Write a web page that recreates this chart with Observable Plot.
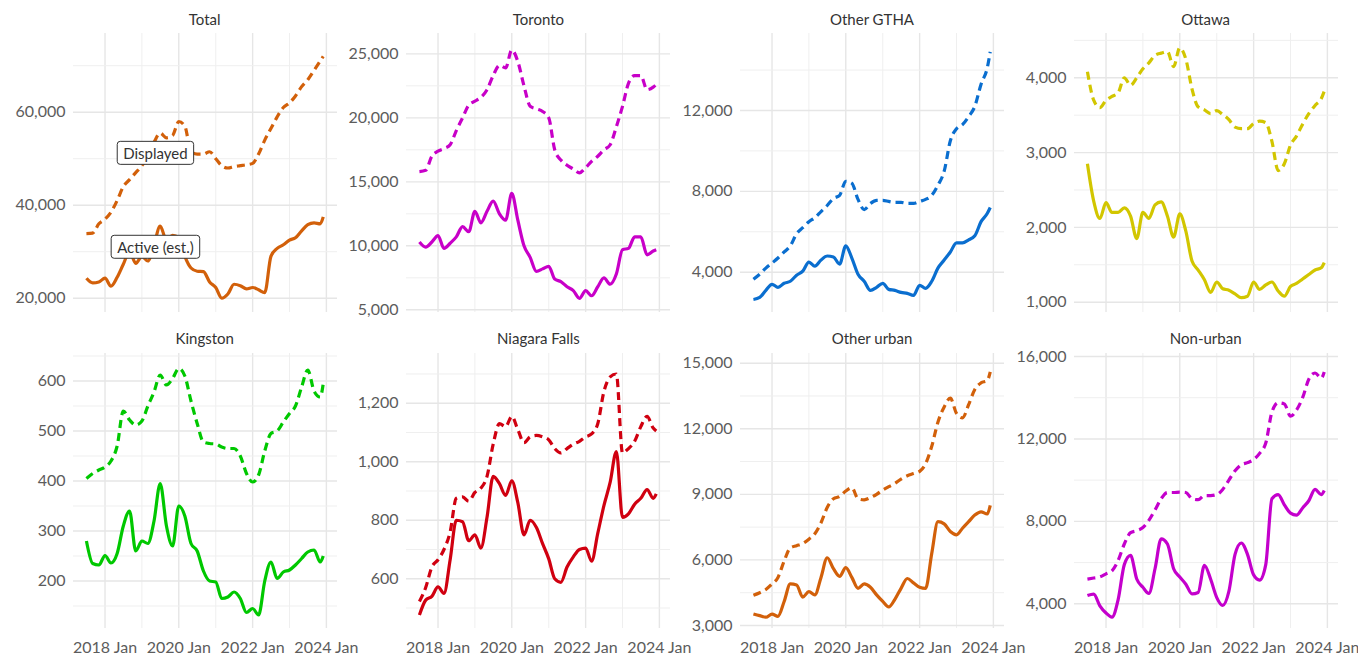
<!DOCTYPE html>
<html>
<head>
<meta charset="utf-8">
<script src="https://cdn.jsdelivr.net/npm/d3@7"></script>
<script src="https://cdn.jsdelivr.net/npm/@observablehq/plot@0.6"></script>
<style>
  html, body { margin: 0; padding: 0; background: #fff; }
  #chart { position: relative; width: 1358px; height: 656px; overflow: hidden; font-family: Lato, "Noto Sans", sans-serif; }
  .panel-title { position: absolute; width: 264px; text-align: center; font-size: 15px; line-height: 17px; color: #333; }
  .panel { position: absolute; }
</style>
</head>
<body>
<div id="chart"></div>
<script>
// Observation months (every second month, plus the final month)
const months = [
  "2017-07","2017-09","2017-11",
  "2018-01","2018-03","2018-05","2018-07","2018-09","2018-11",
  "2019-01","2019-03","2019-05","2019-07","2019-09","2019-11",
  "2020-01","2020-03","2020-05","2020-07","2020-09","2020-11",
  "2021-01","2021-03","2021-05","2021-07","2021-09","2021-11",
  "2022-01","2022-03","2022-05","2022-07","2022-09","2022-11",
  "2023-01","2023-03","2023-05","2023-07","2023-09","2023-11","2023-12"
];

const panelNames = ["Total", "Toronto", "Other GTHA", "Ottawa", "Kingston", "Niagara Falls", "Other urban", "Non-urban"];

// Active (est.) listings — solid lines
const totalActive = [24300,23300,23500,24300,22600,24500,27300,30000,27500,29000,28000,31500,35500,32500,33500,33000,29000,26500,25800,25700,23500,22300,20000,20900,23000,22700,22000,22300,21800,21200,29000,30700,31500,32500,33000,34500,35800,36200,36000,37500];
const torontoActive = [10300,9900,10300,10800,9800,10200,10700,11500,11100,12700,11800,12700,13500,12500,12000,14100,12000,10000,9100,8000,8200,8400,7400,7200,6800,6500,5900,6500,6100,6800,7500,7000,7800,9700,9800,10700,10700,9300,9600,9700];
const gthaActive = [2650,2750,3100,3400,3250,3450,3550,3850,4050,4500,4300,4600,4800,4750,4400,5300,4700,3900,3550,3100,3250,3450,3150,3100,3000,2950,2850,3350,3200,3550,4200,4600,5000,5450,5450,5600,5800,6500,6900,7200];
const ottawaActive = [2850,2350,2120,2330,2200,2200,2260,2150,1850,2200,2120,2300,2340,2150,1870,2180,1950,1550,1430,1300,1130,1270,1180,1160,1110,1060,1080,1270,1170,1230,1270,1150,1080,1210,1250,1310,1370,1430,1460,1530];
const kingstonActive = [280,235,232,251,236,255,310,340,260,280,275,320,395,310,270,350,330,275,260,220,200,198,165,168,178,165,137,145,132,200,238,205,218,222,232,245,258,262,238,250];
const niagaraActive = [476,527,540,572,550,665,800,795,730,750,705,810,950,925,885,935,860,750,800,775,720,668,600,588,640,675,700,705,660,755,850,930,1035,810,822,855,875,905,875,890];
const urbanActive = [3530,3450,3380,3520,3420,4100,4900,4850,4300,4550,4400,5200,6100,5600,5250,5650,5200,4700,4900,4750,4400,4100,3850,4200,4700,5150,4950,4750,4700,6300,7750,7650,7300,7150,7450,7750,8050,8200,8100,8500];
const nonUrbanActive = [4400,4470,3900,3550,3350,4200,5900,6350,5200,4800,4500,5700,7150,6900,5700,5300,4950,4480,4550,5870,5200,4300,3920,4600,6400,6950,6400,5400,5150,5900,9100,9300,8800,8400,8300,8650,9000,9550,9300,9500];

// Displayed listings — dashed lines
const totalDisplayed = [33900,34000,36000,37000,38500,41000,44000,45500,47000,48500,50500,53500,55500,54500,55000,58000,57000,51500,51000,51000,51500,50000,48500,48000,48300,48500,48700,49000,51000,54000,56500,59000,61000,62000,63500,65500,67000,69000,71000,72000];
const torontoDisplayed = [15800,15900,17000,17400,17600,17900,19000,20000,21000,21300,21600,22200,23300,24100,23900,25300,24400,22500,20900,20700,20500,20000,17500,16700,16300,16000,15700,16100,16600,17000,17500,17900,19300,20900,22700,23300,23300,22200,22400,22600];
const gthaDisplayed = [3650,3900,4200,4450,4700,5000,5300,5900,6200,6500,6700,7000,7300,7650,7800,8500,8400,7600,7100,7400,7550,7550,7500,7450,7450,7400,7400,7500,7600,7800,8300,9000,10500,11100,11300,11700,12200,13300,14100,14900];
const ottawaDisplayed = [4080,3700,3600,3700,3750,3800,4000,3900,4000,4120,4200,4300,4330,4350,4150,4400,4250,3850,3610,3570,3520,3560,3510,3440,3340,3320,3320,3390,3420,3400,3150,2760,2850,3100,3220,3380,3520,3630,3720,3820];
const kingstonDisplayed = [405,415,422,428,440,470,540,522,512,520,550,578,612,592,605,625,610,560,515,478,475,474,468,465,465,450,415,398,412,460,495,500,518,535,550,588,622,580,568,595];
const niagaraDisplayed = [522,570,640,665,700,760,875,880,865,895,910,950,1060,1130,1120,1155,1110,1065,1085,1090,1085,1075,1045,1030,1045,1060,1070,1085,1095,1130,1240,1290,1300,1030,1045,1070,1120,1155,1115,1105];
const urbanDisplayed = [4380,4500,4650,4900,5200,5950,6550,6650,6750,6950,7200,7700,8400,8800,8900,9150,9300,8800,8750,8850,9000,9200,9350,9500,9700,9850,9950,10050,10400,11200,12300,13000,13400,12700,12500,13100,13800,14100,14200,14600];
const nonUrbanDisplayed = [5200,5250,5300,5450,5600,6100,6900,7450,7550,7700,8050,8550,9100,9400,9400,9420,9400,9100,9050,9250,9250,9300,9550,10000,10450,10750,10850,11000,11300,11800,13300,13750,13700,13100,13400,14000,14900,15200,14950,15250];

// Series colours per panel
const panelColors = ["#d2600a", "#c800c8", "#0a6ecf", "#d2c600", "#00c800", "#d00010", "#d2600a", "#c400cc"];

// Free y scales: domains and tick values per panel
const yDomains = [[16925, 76925], [4790, 26590], [2005, 15810], [862, 4592], [105, 655], [430, 1370], [2863, 15443], [2800, 16146]];
const yMajorTicks = [
  [20000, 40000, 60000],
  [5000, 10000, 15000, 20000, 25000],
  [4000, 8000, 12000],
  [1000, 2000, 3000, 4000],
  [200, 300, 400, 500, 600],
  [600, 800, 1000, 1200],
  [3000, 6000, 9000, 12000, 15000],
  [4000, 8000, 12000, 16000]
];
const yMinorTicks = [
  [30000, 50000, 70000],
  [7500, 12500, 17500, 22500],
  [6000, 10000, 14000],
  [1500, 2500, 3500, 4500],
  [150, 250, 350, 450, 550, 650],
  [500, 700, 900, 1100, 1300],
  [4500, 7500, 10500, 13500],
  [6000, 10000, 14000]
];

const majorYearTicks = ["2018", "2020", "2022", "2024"];
const minorYearTicks = ["2019", "2021", "2023"];

// Series labels in the Total panel
const seriesLabels = [
  { label: "Displayed", date: "2019-05-15", value: 51000 },
  { label: "Active (est.)", date: "2019-05-15", value: 30800 }
];

const activeSeries = [totalActive, torontoActive, gthaActive, ottawaActive, kingstonActive, niagaraActive, urbanActive, nonUrbanActive];
const displayedSeries = [totalDisplayed, torontoDisplayed, gthaDisplayed, ottawaDisplayed, kingstonDisplayed, niagaraDisplayed, urbanDisplayed, nonUrbanDisplayed];

const parseMonth = d3.utcParse("%Y-%m");
const parseYear = d3.utcParse("%Y");
const parseDay = d3.utcParse("%Y-%m-%d");
const dates = months.map(parseMonth);
const majorYears = majorYearTicks.map(parseYear);
const minorYears = minorYearTicks.map(parseYear);
const xDomain = [new Date(Date.UTC(2017, 1, 23)), new Date(Date.UTC(2024, 3, 20))];

// Grid layout of the small multiples
const colLeft = [72.7, 406.4, 740, 1073.7];
const rowTop = [33, 353];
const rowPlotHeight = [279, 275];
const titleTop = [11, 330];
const plotWidth = 264;

const chart = document.getElementById("chart");

panelNames.forEach((name, i) => {
  const row = Math.floor(i / 4), col = i % 4;
  const bottomRow = row === 1;
  const mT = 5, mB = bottomRow ? 28 : 5, mL = 60, mR = 8;
  const color = panelColors[i];
  const rows = dates.map((date, j) => ({ date, active: activeSeries[i][j], displayed: displayedSeries[i][j] }));

  const lineStyle = { x: "date", stroke: color, strokeWidth: 3.2, strokeLinejoin: "round", strokeLinecap: "butt", curve: "monotone-x" };
  const marks = [
    Plot.ruleX(minorYears, { stroke: "#efefef", strokeWidth: 1 }),
    Plot.ruleX(majorYears, { stroke: "#e6e6e6", strokeWidth: 1.4 }),
    Plot.ruleY(yMinorTicks[i], { stroke: "#efefef", strokeWidth: 1 }),
    Plot.ruleY(yMajorTicks[i], { stroke: "#e6e6e6", strokeWidth: 1.4 }),
    Plot.lineY(rows, { ...lineStyle, y: "displayed", strokeDasharray: "8,5" }),
    Plot.lineY(rows, { ...lineStyle, y: "active" })
  ];
  if (i === 0) {
    marks.push(Plot.text(seriesLabels, {
      x: d => parseDay(d.date), y: "value", text: "label",
      fontSize: 15, fill: "#333"
    }));
  }

  const svg = Plot.plot({
    width: mL + plotWidth + mR,
    height: mT + rowPlotHeight[row] + mB,
    marginTop: mT, marginBottom: mB, marginLeft: mL, marginRight: mR,
    style: { fontFamily: "Lato, 'Noto Sans', sans-serif", fontSize: "16px", color: "#5c5c5c", background: "transparent", overflow: "visible" },
    x: {
      type: "utc", domain: xDomain, ticks: majorYears,
      tickFormat: d3.utcFormat("%Y %b"), tickSize: 0, tickPadding: 13,
      label: null, axis: bottomRow ? "bottom" : null
    },
    y: {
      domain: yDomains[i], ticks: yMajorTicks[i], tickFormat: d3.format(","),
      tickSize: 0, tickPadding: 8, label: null
    },
    marks
  });

  const holder = document.createElement("div");
  holder.className = "panel";
  holder.style.left = (colLeft[col] - mL) + "px";
  holder.style.top = (rowTop[row] - mT) + "px";
  holder.style.width = (mL + plotWidth + mR) + "px";
  holder.appendChild(svg);
  chart.appendChild(holder);

  const title = document.createElement("div");
  title.className = "panel-title";
  title.textContent = name;
  title.style.left = colLeft[col] + "px";
  title.style.top = titleTop[row] + "px";
  chart.appendChild(title);

  // Boxed series labels: draw a rounded frame behind each label text
  if (i === 0) {
    const names = new Set(seriesLabels.map(d => d.label));
    svg.querySelectorAll("text").forEach(t => {
      if (!names.has(t.textContent)) return;
      const bb = t.getBBox();
      const padX = 6, padY = 2.5;
      const rect = document.createElementNS("http://www.w3.org/2000/svg", "rect");
      rect.setAttribute("x", bb.x - padX);
      rect.setAttribute("y", bb.y - padY);
      rect.setAttribute("width", bb.width + 2 * padX);
      rect.setAttribute("height", bb.height + 2 * padY);
      rect.setAttribute("rx", 3);
      rect.setAttribute("fill", "#fff");
      rect.setAttribute("stroke", "#333");
      rect.setAttribute("stroke-width", 1);
      const tr = t.getAttribute("transform");
      if (tr) rect.setAttribute("transform", tr);
      t.parentNode.insertBefore(rect, t);
    });
  }
});
</script>
</body>
</html>
